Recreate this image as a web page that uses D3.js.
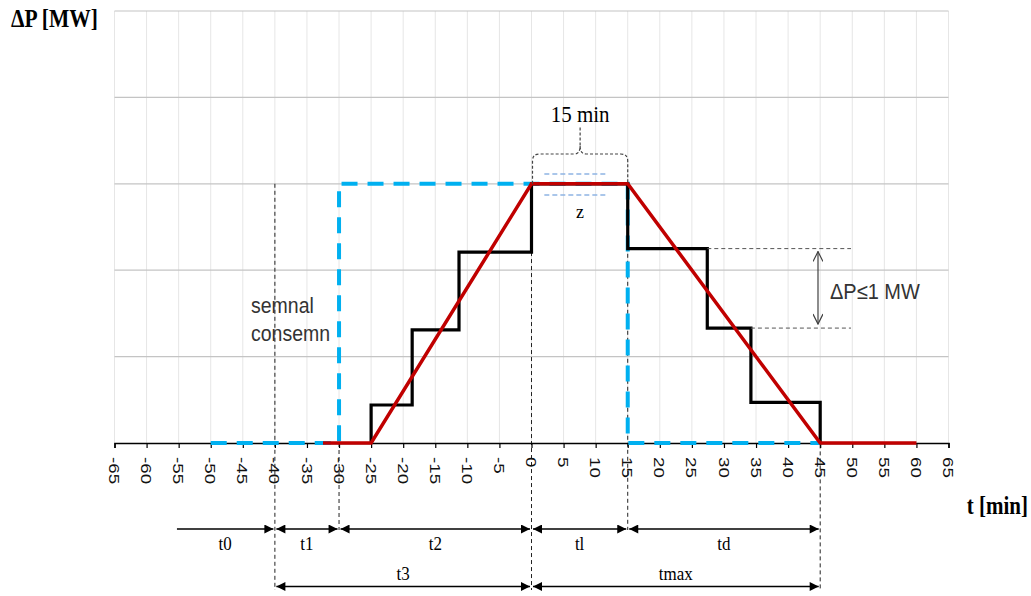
<!DOCTYPE html>
<html><head><meta charset="utf-8">
<script src="https://cdn.jsdelivr.net/npm/d3@7/dist/d3.min.js"></script>
<style>body{margin:0;background:#fff}svg{display:block}</style>
</head><body><svg id="c" width="1031" height="596"></svg>
<script>
// ---- data ----
const xTicks = [-65,-60,-55,-50,-45,-40,-35,-30,-25,-20,-15,-10,-5,0,5,10,15,20,25,30,35,40,45,50,55,60,65];
const yGrid = [1,2,3,4,5];
const redT = [-32.5,-25,0,15,45,60];
const redP = [0,0,3,3,0,0];
const blueT = [-50,-30,-30,15,15,45];
const blueP = [0,0,3,3,0,0];
const stepT = [-25,-25,-18.6,-18.6,-11.3,-11.3,0,0,15,15,27.4,27.4,34.2,34.2,45,45];
const stepP = [0,0.44,0.44,1.31,1.31,2.21,2.21,3,3,2.25,2.25,1.33,1.33,0.47,0.47,0];
const row1 = [ {a:-55.5,b:-40,label:"t0",single:true}, {a:-40,b:-30,label:"t1"}, {a:-30,b:0,label:"t2"}, {a:0,b:15,label:"tl"}, {a:15,b:45,label:"td"} ];
const row2 = [ {a:-40,b:0,label:"t3"}, {a:0,b:45,label:"tmax"} ];

const svg = d3.select("#c");
const x = d3.scaleLinear().domain([-65,65]).range([114.5,948.5]);
const y = d3.scaleLinear().domain([0,5]).range([443,11]);
const serif = "'Liberation Serif','Times New Roman',serif";
const sans = "'Liberation Sans',Arial,sans-serif";

svg.append("defs").html(`
<marker id="ah" viewBox="0 0 10 10" refX="10" refY="5" markerWidth="11" markerHeight="9" markerUnits="userSpaceOnUse" orient="auto-start-reverse"><path d="M0,0L10,5L0,10Z" fill="#000"/></marker>
<marker id="oh" viewBox="0 0 10 10" refX="10" refY="5" markerWidth="12" markerHeight="10" markerUnits="userSpaceOnUse" orient="auto-start-reverse"><path d="M0,0L10,5L0,10" fill="none" stroke="#404040" stroke-width="1.2"/></marker>`);

// grid
svg.append("g").selectAll("line").data(xTicks).join("line")
  .attr("x1",d=>x(d)).attr("x2",d=>x(d)).attr("y1",y(5)).attr("y2",y(0))
  .attr("stroke","#e6e6e6").attr("stroke-width",1);
svg.append("g").selectAll("line").data(yGrid).join("line")
  .attr("x1",x(-65)).attr("x2",x(65)).attr("y1",d=>y(d)).attr("y2",d=>y(d))
  .attr("stroke","#c4c4c4").attr("stroke-width",1.2);

// thin dashed guide verticals
const guides = [ {t:-40,p0:3,yEnd:590}, {t:-30,p0:0,yEnd:530}, {t:0,p0:2.21,yEnd:590}, {t:15,p0:3,yEnd:530}, {t:45,p0:0.47,yEnd:590} ];
svg.append("g").selectAll("line").data(guides).join("line")
  .attr("x1",d=>x(d.t)).attr("x2",d=>x(d.t)).attr("y1",d=>y(d.p0)).attr("y2",d=>d.yEnd)
  .attr("stroke","#222").attr("stroke-width",1).attr("stroke-dasharray","4,3");

// axis
const ax = svg.append("g").attr("transform",`translate(0,${y(0)})`)
  .call(d3.axisBottom(x).tickValues(xTicks).tickSize(5).tickFormat(""));
ax.select(".domain").attr("stroke","#000").attr("stroke-width",1.5);
ax.selectAll(".tick line").attr("stroke","#000").attr("stroke-width",1.2);
svg.append("g").selectAll("text").data(xTicks).join("text")
  .attr("transform",d=>`translate(${x(d)},457) rotate(90) scale(1.25,1)`)
  .attr("dy","0.36em").attr("font-family",sans).attr("font-size",15).attr("fill","#111")
  .text(d=>d);

// series
const line = d3.line().x(d=>x(d[0])).y(d=>y(d[1]));
svg.append("path").attr("d",line(blueT.map((t,i)=>[t,blueP[i]])))
  .attr("fill","none").attr("stroke","#00b0f0").attr("stroke-width",4).attr("stroke-dasharray","16,10");
svg.append("path").attr("d",line(stepT.map((t,i)=>[t,stepP[i]])))
  .attr("fill","none").attr("stroke","#000").attr("stroke-width",3.2).attr("stroke-linejoin","miter");
svg.append("path").attr("d",line(redT.map((t,i)=>[t,redP[i]])))
  .attr("fill","none").attr("stroke","#c00000").attr("stroke-width",3.5);

// helper for stretched text
function txt(str,cx,cy,opts){
  const g = svg.append("g").attr("transform",`translate(${cx},${cy}) scale(1,${opts.sy||1.15})`);
  return g.append("text").attr("x",0).attr("y",0).attr("text-anchor",opts.anchor||"middle")
    .attr("font-family",opts.family||serif).attr("font-size",opts.size||17)
    .attr("font-weight",opts.weight||"normal").attr("fill",opts.fill||"#000").text(str);
}

// axis titles
txt("ΔP [MW]",11,27,{anchor:"start",size:21.5,weight:"bold"});
txt("t [min]",1028,514,{anchor:"end",size:21,weight:"bold"});

// semnal consemn
txt("semnal",251,313,{anchor:"start",family:sans,size:19.5,fill:"#333",sy:1.1});
txt("consemn",251,341,{anchor:"start",family:sans,size:19.5,fill:"#333",sy:1.1});

// 15 min brace
const bx0 = x(0)+1, bx1 = x(15), bm = (bx0+bx1)/2, by = 154;
svg.append("path")
  .attr("d",`M${bx0},${y(3)}V${by+7}Q${bx0},${by} ${bx0+7},${by}H${bm-6}Q${bm},${by} ${bm},${by-8}V${by-27}M${bm},${by-8}Q${bm},${by} ${bm+6},${by}H${bx1-7}Q${bx1},${by} ${bx1},${by+7}V${y(3)}`)
  .attr("fill","none").attr("stroke","#444").attr("stroke-width",1.2).attr("stroke-dasharray","3,2");
txt("15 min",bm,122,{size:21,sy:1.1});
svg.append("g").selectAll("line").data([174,195]).join("line")
  .attr("x1",x(2)).attr("x2",x(11.8)).attr("y1",d=>d).attr("y2",d=>d)
  .attr("stroke","#8fb4e3").attr("stroke-width",1.6).attr("stroke-dasharray","5,3");
txt("z",bm,218,{size:18,sy:1.1});

// ΔP ≤ 1 MW annotation
svg.append("g").selectAll("line").data([{t:27.4,p:2.25},{t:34.2,p:1.33}]).join("line")
  .attr("x1",d=>x(d.t)).attr("x2",851).attr("y1",d=>y(d.p)).attr("y2",d=>y(d.p))
  .attr("stroke","#555").attr("stroke-width",1).attr("stroke-dasharray","4,3");
svg.append("line").attr("x1",818).attr("x2",818).attr("y1",y(2.25)+3).attr("y2",y(1.33)-4)
  .attr("stroke","#404040").attr("stroke-width",1.2)
  .attr("marker-start","url(#oh)").attr("marker-end","url(#oh)");
txt("ΔP≤1 MW",830,299,{anchor:"start",family:sans,size:20,fill:"#333",sy:1.1});

// time interval arrows
function arrows(data,yy,ly){
  svg.append("g").selectAll("line").data(data).join("line")
    .attr("x1",d=>x(d.a)+1.5).attr("x2",d=>x(d.b)-1.5).attr("y1",yy).attr("y2",yy)
    .attr("stroke","#000").attr("stroke-width",1.3)
    .attr("marker-start",d=>d.single?null:"url(#ah)").attr("marker-end","url(#ah)");
  data.forEach(d=>txt(d.label,(x(d.a)+x(d.b))/2,ly,{size:17,sy:1.15}));
}
arrows(row1,529,550);
arrows(row2,586.5,580);
</script></body></html>
